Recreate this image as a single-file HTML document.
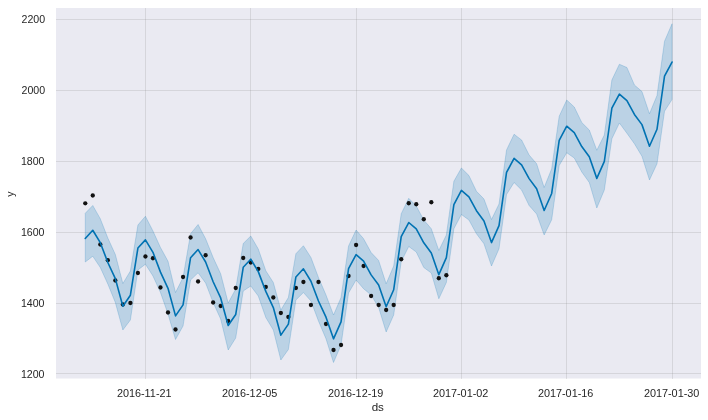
<!DOCTYPE html>
<html><head><meta charset="utf-8"><title>forecast</title>
<style>
html,body{margin:0;padding:0;background:#fff;}
svg{display:block;}
text{font-family:"Liberation Sans",Arial,sans-serif;fill:#262626;}
</style></head>
<body>
<svg width="708" height="420" viewBox="0 0 708 420">
<rect x="0" y="0" width="708" height="420" fill="#ffffff"/>
<rect x="56" y="8" width="645" height="370.5" fill="#eaeaf2"/>
<g stroke="#808080" stroke-opacity="0.2" stroke-width="1" shape-rendering="crispEdges"><line x1="56" x2="701" y1="19.5" y2="19.5"/><line x1="56" x2="701" y1="90.5" y2="90.5"/><line x1="56" x2="701" y1="161.5" y2="161.5"/><line x1="56" x2="701" y1="232.5" y2="232.5"/><line x1="56" x2="701" y1="303.5" y2="303.5"/><line x1="56" x2="701" y1="373.5" y2="373.5"/><line x1="145.5" x2="145.5" y1="8" y2="378.5"/><line x1="250.5" x2="250.5" y1="8" y2="378.5"/><line x1="356.5" x2="356.5" y1="8" y2="378.5"/><line x1="461.5" x2="461.5" y1="8" y2="378.5"/><line x1="566.5" x2="566.5" y1="8" y2="378.5"/><line x1="672.5" x2="672.5" y1="8" y2="378.5"/></g>
<polygon points="85.25,213.25 92.77,205.5 100.3,218.75 107.82,238 115.34,254.5 122.86,283.5 130.39,271 137.91,225 145.43,216.25 152.96,231 160.48,247.5 168,261.25 175.53,292.5 183.05,277.5 190.57,233.75 198.09,224.5 205.62,238.75 213.14,257.5 220.66,273.75 228.19,303 235.71,289 243.23,243.5 250.76,236 258.28,249 265.8,270.75 273.32,282.5 280.85,310 288.37,297.5 295.89,253.75 303.42,245.75 310.94,257.5 318.46,277.5 325.99,295 333.51,315 341.03,297.5 348.56,246 356.08,230 363.6,238.75 371.12,252.5 378.65,260.5 386.17,283.75 393.69,266 401.22,213.75 408.74,198.3 416.26,206 423.78,220 431.31,228.75 438.83,250.5 446.35,235 453.88,181.25 461.4,168 468.92,175.5 476.45,191.25 483.97,199 491.49,219.5 499.01,204 506.54,150 514.06,134.25 521.58,140 529.11,155 536.63,163.75 544.15,187.5 551.68,168.75 559.2,116.25 566.72,100 574.25,107 581.77,122.5 589.29,130 596.81,150.25 604.34,135 611.86,80 619.38,64.25 626.91,67.5 634.43,85 641.95,91.5 649.48,113.75 657,95.5 664.52,41.25 672.04,23.75 672.04,99.5 664.52,111.25 657,163.75 649.48,180 641.95,156.25 634.43,143.75 626.91,133.25 619.38,123 611.86,138.75 604.34,190 596.81,208 589.29,182.5 581.77,172 574.25,158 566.72,152.75 559.2,165.5 551.68,219.75 544.15,235 536.63,214 529.11,205.5 521.58,190 514.06,182.5 506.54,194.5 499.01,248.75 491.49,266 483.97,243.75 476.45,233.75 468.92,220 461.4,214.5 453.88,228.75 446.35,282.5 438.83,298.75 431.31,273 423.78,267.5 416.26,252 408.74,246.5 401.22,261.5 393.69,315 386.17,332 378.65,307.5 371.12,295 363.6,288.75 356.08,280 348.56,293 341.03,345 333.51,362.5 325.99,338.75 318.46,321 310.94,301 303.42,292.5 295.89,300 288.37,349.5 280.85,360 273.32,330 265.8,317.5 258.28,296 250.76,286 243.23,291 235.71,338 228.19,350 220.66,319 213.14,302.5 205.62,283 198.09,272.8 190.57,280 183.05,326 175.53,339.5 168,314 160.48,292.5 152.96,276 145.43,264.2 137.91,270 130.39,320 122.86,330 115.34,302.5 107.82,284 100.3,267.5 92.77,256.25 85.25,262" fill="#0072b2" fill-opacity="0.2" stroke="#0072b2" stroke-opacity="0.2" stroke-width="1" stroke-linejoin="round"/>
<g fill="#111111"><circle cx="85.25" cy="203.3" r="2.15"/><circle cx="92.77" cy="195.5" r="2.15"/><circle cx="100.3" cy="244.5" r="2.15"/><circle cx="107.82" cy="260.25" r="2.15"/><circle cx="115.34" cy="280.5" r="2.15"/><circle cx="122.86" cy="304.5" r="2.15"/><circle cx="130.39" cy="303" r="2.15"/><circle cx="137.91" cy="273" r="2.15"/><circle cx="145.43" cy="256.5" r="2.15"/><circle cx="152.96" cy="258.25" r="2.15"/><circle cx="160.48" cy="287.5" r="2.15"/><circle cx="168" cy="312.5" r="2.15"/><circle cx="175.53" cy="329.5" r="2.15"/><circle cx="183.05" cy="277" r="2.15"/><circle cx="190.57" cy="237.5" r="2.15"/><circle cx="198.09" cy="281.5" r="2.15"/><circle cx="205.62" cy="255.25" r="2.15"/><circle cx="213.14" cy="302.5" r="2.15"/><circle cx="220.66" cy="306" r="2.15"/><circle cx="228.19" cy="321" r="2.15"/><circle cx="235.71" cy="288" r="2.15"/><circle cx="243.23" cy="258" r="2.15"/><circle cx="250.76" cy="262.5" r="2.15"/><circle cx="258.28" cy="269" r="2.15"/><circle cx="265.8" cy="287" r="2.15"/><circle cx="273.32" cy="297.5" r="2.15"/><circle cx="280.85" cy="313" r="2.15"/><circle cx="288.37" cy="317" r="2.15"/><circle cx="295.89" cy="288" r="2.15"/><circle cx="303.42" cy="282" r="2.15"/><circle cx="310.94" cy="305" r="2.15"/><circle cx="318.46" cy="282" r="2.15"/><circle cx="325.99" cy="324" r="2.15"/><circle cx="333.51" cy="350" r="2.15"/><circle cx="341.03" cy="345" r="2.15"/><circle cx="348.56" cy="276" r="2.15"/><circle cx="356.08" cy="245" r="2.15"/><circle cx="363.6" cy="266" r="2.15"/><circle cx="371.12" cy="296" r="2.15"/><circle cx="378.65" cy="305" r="2.15"/><circle cx="386.17" cy="310" r="2.15"/><circle cx="393.69" cy="305" r="2.15"/><circle cx="401.22" cy="259.25" r="2.15"/><circle cx="408.74" cy="203.25" r="2.15"/><circle cx="416.26" cy="204.25" r="2.15"/><circle cx="423.78" cy="219.25" r="2.15"/><circle cx="431.31" cy="202.25" r="2.15"/><circle cx="438.83" cy="278.25" r="2.15"/><circle cx="446.35" cy="275.25" r="2.15"/></g>
<polyline points="85.25,238.43 92.77,230.28 100.3,242.69 107.82,262.49 115.34,278.65 122.86,306.26 130.39,295.24 137.91,248.06 145.43,239.91 152.96,252.33 160.48,272.13 168,288.29 175.53,315.9 183.05,304.87 190.57,257.7 198.09,249.55 205.62,261.96 213.14,281.76 220.66,297.92 228.19,325.53 235.71,314.51 243.23,267.33 250.76,259.18 258.28,271.6 265.8,291.39 273.32,307.55 280.85,335.17 288.37,324.14 295.89,276.96 303.42,268.82 310.94,281.23 318.46,301.03 325.99,317.19 333.51,338.84 341.03,321.85 348.56,268.71 356.08,254.61 363.6,261.06 371.12,274.89 378.65,285.09 386.17,306.74 393.69,289.76 401.22,236.62 408.74,222.51 416.26,228.96 423.78,242.8 431.31,253 438.83,274.65 446.35,257.66 453.88,204.53 461.4,190.42 468.92,196.87 476.45,210.71 483.97,220.91 491.49,242.56 499.01,225.57 506.54,172.43 514.06,158.32 521.58,164.78 529.11,178.61 536.63,188.81 544.15,210.46 551.68,193.48 559.2,140.34 566.72,126.23 574.25,132.68 581.77,146.52 589.29,156.72 596.81,178.37 604.34,161.38 611.86,108.24 619.38,94.13 626.91,100.59 634.43,114.42 641.95,124.62 649.48,146.27 657,129.29 664.52,76.15 672.04,62.04" fill="none" stroke="#0072b2" stroke-width="1.6" stroke-linejoin="round" stroke-linecap="round"/>
<g font-size="11px"><text x="45.1" y="23.2" text-anchor="end" font-size="10.6px">2200</text><text x="45.1" y="94.2" text-anchor="end" font-size="10.6px">2000</text><text x="44.5" y="165.2" text-anchor="end" font-size="10.6px">1800</text><text x="44.5" y="236.2" text-anchor="end" font-size="10.6px">1600</text><text x="44.5" y="307.2" text-anchor="end" font-size="10.6px">1400</text><text x="44.5" y="378.1" text-anchor="end" font-size="10.6px">1200</text><text x="116.9" y="397.3" font-size="10.85px">2016-11-21</text><text x="221.9" y="397.3" font-size="10.85px">2016-12-05</text><text x="327.9" y="397.3" font-size="10.85px">2016-12-19</text><text x="432.9" y="397.3" font-size="10.85px">2017-01-02</text><text x="537.9" y="397.3" font-size="10.85px">2017-01-16</text><text x="643.9" y="397.3" font-size="10.85px">2017-01-30</text></g>
<text x="377.8" y="411" font-size="11.6px" text-anchor="middle">ds</text>
<text transform="translate(14.4,194) rotate(-90)" font-size="10.5px" text-anchor="middle">y</text>
</svg>
</body></html>
